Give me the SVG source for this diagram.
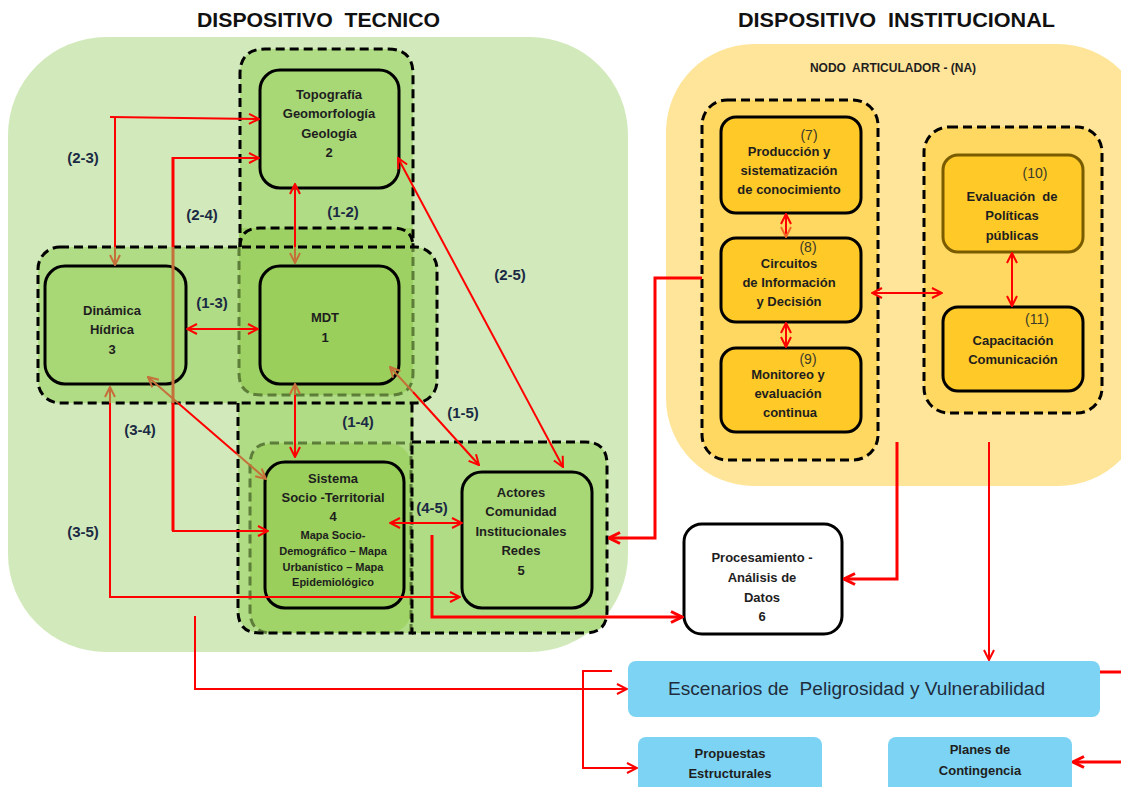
<svg xmlns="http://www.w3.org/2000/svg" width="1121" height="787" viewBox="0 0 1121 787">
<style>
.grp{fill:none;stroke:#000;stroke-width:3;stroke-dasharray:9 5}
.gry{fill:none;stroke:#4a6629;stroke-opacity:.8;stroke-width:3;stroke-dasharray:9 5}
.nd{stroke:#000;stroke-width:3}
.t{font-family:"Liberation Sans",Arial,sans-serif;font-weight:bold;font-size:13px;fill:#1e1e1e;text-anchor:middle}
.ts{font-family:"Liberation Sans",Arial,sans-serif;font-weight:bold;font-size:11px;fill:#1e1e1e;text-anchor:middle}
.num{font-family:"Liberation Sans",Arial,sans-serif;font-size:14px;fill:#3a3a2a;text-anchor:middle}
.lbl{font-family:"Liberation Sans",Arial,sans-serif;font-weight:bold;font-size:15px;fill:#1b2a44;text-anchor:middle}
.ttl{font-family:"Liberation Sans",Arial,sans-serif;font-weight:bold;font-size:20px;fill:#111}
.c{fill:none;stroke:#ff0000;stroke-width:2}
.cb{fill:none;stroke:#c5703a;stroke-width:2}
.ck{fill:none;stroke:#ff0000;stroke-width:3}
</style>
<defs>
<marker id="ar" viewBox="0 0 12 12" refX="11" refY="6" markerWidth="12" markerHeight="12" markerUnits="userSpaceOnUse" orient="auto-start-reverse"><path d="M1,1 L11,6 L1,11" fill="none" stroke="#ff0000" stroke-width="2"/></marker>
<marker id="ab" viewBox="0 0 12 12" refX="11" refY="6" markerWidth="12" markerHeight="12" markerUnits="userSpaceOnUse" orient="auto-start-reverse"><path d="M1,1 L11,6 L1,11" fill="none" stroke="#c5703a" stroke-width="2"/></marker>
<marker id="ao" viewBox="0 0 12 12" refX="11" refY="6" markerWidth="12" markerHeight="12" markerUnits="userSpaceOnUse" orient="auto-start-reverse"><path d="M1,1 L11,6 L1,11" fill="none" stroke="#f06a2a" stroke-width="2"/></marker>
<marker id="ak" viewBox="0 0 14 14" refX="12.5" refY="7" markerWidth="14" markerHeight="14" markerUnits="userSpaceOnUse" orient="auto-start-reverse"><path d="M1.5,1.5 L12.5,7 L1.5,12.5" fill="none" stroke="#ff0000" stroke-width="3"/></marker>
</defs>

<!-- backgrounds -->
<rect x="8" y="37" width="620" height="615" rx="98" fill="#d2eabb"/>
<rect x="666" y="44" width="480" height="442" rx="88" fill="#ffe599"/>

<text class="ttl" x="197" y="27" textLength="243" lengthAdjust="spacingAndGlyphs" xml:space="preserve">DISPOSITIVO  TECNICO</text>
<text class="ttl" x="738" y="27" textLength="317" lengthAdjust="spacingAndGlyphs" xml:space="preserve">DISPOSITIVO  INSTITUCIONAL</text>
<text class="t" x="893" y="72" style="font-size:12px" xml:space="preserve">NODO  ARTICULADOR - (NA)</text>

<!-- technical groups -->
<g id="groups-tecnico">
<path fill="#b1dc86" d="M240,250 V74 Q240,49 265,49 H388 Q413,49 413,74 V250 Z"/>
<rect x="238" y="228" width="175" height="405" rx="22" fill="#b1dc86"/>
<path fill="#b1dc86" d="M400,442 H585 Q607,442 607,464 V611 Q607,633 585,633 H400 Z"/>
<rect x="38" y="247" width="399" height="156" rx="22" fill="#b1dc86"/>
<path fill="#9dd163" d="M239,228 H413 V373 Q413,395 391,395 H261 Q239,395 239,373 Z"/>
<rect x="250" y="443" width="161" height="190" rx="22" fill="#a0d368"/>
<path class="gry" d="M239,247 V373 Q239,395 261,395 H391 Q413,395 413,373 V247"/>
<path class="gry" d="M411,633 V443 H272 Q250,443 250,465 V611 Q250,633 272,633"/>
<path class="grp" d="M240,247 V74 Q240,49 265,49 H388 Q413,49 413,74 V247"/>
<path class="grp" d="M240,247 Q240,228 260,228 H393 Q413,228 413,247"/>
<path class="grp" d="M238,403 V611 Q238,633 260,633 H412 V403"/>
<path class="grp" d="M412,442 H585 Q607,442 607,464 V611 Q607,633 585,633 H412"/>
<rect class="grp" x="38" y="247" width="399" height="156" rx="22"/>
</g>

<!-- institutional groups -->
<g id="groups-institucional">
<rect class="grp" x="702" y="100" width="176" height="360" rx="25" style="fill:#ffd862"/>
<rect class="grp" x="924" y="127" width="178" height="286" rx="25" style="fill:#ffd862"/>
</g>

<!-- nodes -->
<g id="n2"><rect class="nd" x="260" y="70" width="139" height="118" rx="20" fill="#a8d776"/>
<text class="t" x="329" y="99">Topografía</text><text class="t" x="329" y="118">Geomorfología</text><text class="t" x="329" y="138">Geología</text><text class="t" x="329" y="157">2</text></g>
<g id="n1"><rect class="nd" x="260" y="266" width="139" height="118" rx="20" fill="#99cf5a"/>
<text class="t" x="325" y="322">MDT</text><text class="t" x="325" y="342">1</text></g>
<g id="n3"><rect class="nd" x="45" y="266" width="141" height="118" rx="20" fill="#a8d776"/>
<text class="t" x="112" y="315">Dinámica</text><text class="t" x="112" y="334">Hídrica</text><text class="t" x="112" y="354">3</text></g>
<g id="n4"><rect class="nd" x="265" y="462" width="139" height="146" rx="20" fill="#99cf5a"/>
<text class="t" x="333" y="483">Sistema</text><text class="t" x="333" y="502">Socio -Territorial</text><text class="t" x="333" y="521">4</text>
<text class="ts" x="333" y="539">Mapa Socio-</text><text class="ts" x="333" y="555">Demográfico – Mapa</text><text class="ts" x="333" y="571">Urbanístico – Mapa</text><text class="ts" x="333" y="586">Epidemiológico</text></g>
<g id="n5"><rect class="nd" x="462" y="472" width="130" height="136" rx="20" fill="#a8d776"/>
<text class="t" x="521" y="497">Actores</text><text class="t" x="521" y="516">Comunidad</text><text class="t" x="521" y="536">Institucionales</text><text class="t" x="521" y="555">Redes</text><text class="t" x="521" y="575">5</text></g>
<g id="n6"><rect class="nd" x="684" y="524" width="158" height="110" rx="18" fill="#ffffff"/>
<text class="t" x="762" y="562">Procesamiento -</text><text class="t" x="762" y="582">Análisis de</text><text class="t" x="762" y="602">Datos</text><text class="t" x="762" y="621">6</text></g>
<g id="n7"><rect class="nd" x="721" y="117" width="140" height="96" rx="15" fill="#ffc928"/>
<text class="num" x="809" y="140">(7)</text><text class="t" x="789" y="156">Producción y</text><text class="t" x="789" y="175">sistematización</text><text class="t" x="789" y="194">de conocimiento</text></g>
<g id="n8"><rect class="nd" x="721" y="238" width="140" height="84" rx="15" fill="#ffc928"/>
<text class="num" x="808" y="252">(8)</text><text class="t" x="789" y="268">Circuitos</text><text class="t" x="789" y="287">de Información</text><text class="t" x="789" y="306">y Decisión</text></g>
<g id="n9"><rect class="nd" x="721" y="348" width="140" height="84" rx="15" fill="#ffc928"/>
<text class="num" x="808" y="364">(9)</text><text class="t" x="788" y="379">Monitoreo y</text><text class="t" x="788" y="398">evaluación</text><text class="t" x="790" y="417">continua</text></g>
<g id="n10"><rect x="943" y="155" width="140" height="97" rx="15" fill="#ffc928" stroke="#7a5c00" stroke-width="3"/>
<text class="num" x="1035" y="178">(10)</text><text class="t" x="1012" y="201" xml:space="preserve">Evaluación  de</text><text class="t" x="1012" y="220">Políticas</text><text class="t" x="1012" y="240">públicas</text></g>
<g id="n11"><rect class="nd" x="943" y="307" width="140" height="84" rx="15" fill="#ffc928"/>
<text class="num" x="1037" y="324">(11)</text><text class="t" x="1013" y="345">Capacitación</text><text class="t" x="1013" y="364">Comunicación</text></g>
<g id="esc"><rect x="628" y="661" width="472" height="56" rx="8" fill="#7dd3f3"/>
<text x="668" y="695" xml:space="preserve" textLength="377" lengthAdjust="spacingAndGlyphs" style="font-family:'Liberation Sans',Arial,sans-serif;font-size:18px;fill:#1f2d3d">Escenarios de  Peligrosidad y Vulnerabilidad</text></g>
<g id="prop"><rect x="638" y="737" width="184" height="62" rx="8" fill="#7dd3f3"/>
<text class="t" x="730" y="758">Propuestas</text><text class="t" x="730" y="778">Estructurales</text></g>
<g id="plan"><rect x="888" y="737" width="184" height="62" rx="8" fill="#7dd3f3"/>
<text class="t" x="980" y="754">Planes de</text><text class="t" x="980" y="775">Contingencia</text></g>

<!-- connectors -->
<g id="connectors">
<path class="c" d="M110,117 L259,119" marker-end="url(#ar)"/>
<path class="c" d="M115,117 V247"/>
<path class="cb" d="M115,247 V265" marker-end="url(#ab)"/>
<path class="c" d="M172,158 H259" marker-end="url(#ar)"/>
<path class="ck" d="M173,157 V247"/>
<path fill="none" stroke="#c5703a" stroke-width="3" d="M173,247 V403"/>
<path class="ck" d="M173,403 V531"/>
<path class="c" d="M172,531 H268" marker-end="url(#ar)"/>
<path class="cb" d="M110,403 V387" marker-end="url(#ab)"/>
<path class="c" d="M110,403 V597 H460" marker-end="url(#ar)"/>
<path class="c" d="M187,329 H258" marker-start="url(#ar)" marker-end="url(#ar)"/>
<path class="c" d="M295,184 V247" marker-start="url(#ar)"/>
<path class="cb" d="M295,247 V263" marker-end="url(#ab)"/>
<path class="cb" d="M295,395 V384" marker-end="url(#ab)"/>
<path class="c" d="M295,395 V457" marker-end="url(#ar)"/>
<path class="cb" d="M413,392 L390,367" marker-end="url(#ab)"/>
<path class="c" d="M413,392 L479,465" marker-end="url(#ar)"/>
<path class="c" d="M398,158 L563,467" marker-start="url(#ar)" marker-end="url(#ar)"/>
<path class="cb" d="M178,403 L148,377" marker-end="url(#ab)"/>
<path class="c" d="M178,403 L237,454"/>
<path class="cb" d="M237,454 L266,479" marker-end="url(#ab)"/>
<path class="c" d="M390,523 H462" marker-start="url(#ar)" marker-end="url(#ar)"/>
<path class="ck" d="M432,535 V617 H682" marker-end="url(#ak)"/>
<path class="ck" d="M702,278 H655 V538 H609" marker-end="url(#ak)"/>
<path class="ck" d="M897,442 V579 H844" marker-end="url(#ak)"/>
<path class="c" d="M989,442 V660" marker-end="url(#ar)"/>
<path class="c" d="M786,214 V237" marker-start="url(#ar)" marker-end="url(#ao)"/>
<path class="c" d="M786,323 V347" marker-start="url(#ar)" marker-end="url(#ar)"/>
<path class="c" d="M1012,253 V306" marker-start="url(#ar)" marker-end="url(#ar)"/>
<path class="c" d="M872,293 H942" marker-start="url(#ar)" marker-end="url(#ar)"/>
<path class="c" d="M195,616 V689 H627" marker-end="url(#ar)"/>
<path class="c" d="M612,671 H583 V768 H637" marker-end="url(#ar)"/>
<path class="ck" d="M1100,672 H1121"/>
<path class="ck" d="M1121,762 H1073" marker-end="url(#ak)"/>
</g>

<!-- labels -->
<g id="labels">
<text class="lbl" x="83" y="163">(2-3)</text>
<text class="lbl" x="202" y="220">(2-4)</text>
<text class="lbl" x="343" y="217">(1-2)</text>
<text class="lbl" x="212" y="308">(1-3)</text>
<text class="lbl" x="140" y="435">(3-4)</text>
<text class="lbl" x="358" y="427">(1-4)</text>
<text class="lbl" x="463" y="418">(1-5)</text>
<text class="lbl" x="510" y="280">(2-5)</text>
<text class="lbl" x="432" y="513">(4-5)</text>
<text class="lbl" x="83" y="537">(3-5)</text>
</g>
</svg>
